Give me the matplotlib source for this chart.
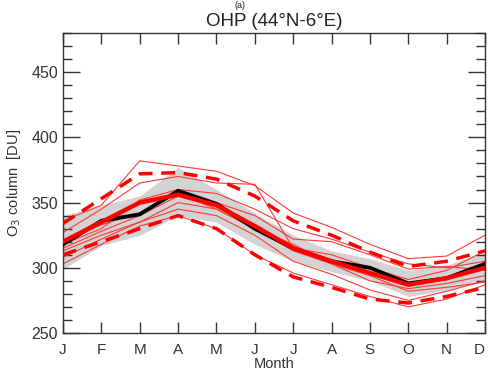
import numpy as np
import matplotlib.pyplot as plt
import matplotlib.transforms as mtransforms

plt.rcParams['font.family'] = ['Liberation Sans', 'DejaVu Sans']

months = ['J', 'F', 'M', 'A', 'M', 'J', 'J', 'A', 'S', 'O', 'N', 'D']

# observed climatology (black) and its spread (grey band)
obs = [318, 336, 341, 359, 349, 330, 315, 305, 300, 288, 292, 303]
band_lo = [299, 317, 325, 340, 335, 318, 305, 297, 290, 278, 283, 290]
band_hi = [340, 348, 355, 377, 360, 342, 325, 313, 307, 298, 302, 312]

# multi-model mean (thick red)
model_mean = [320, 335, 350, 356, 348, 332, 315, 305, 296, 287, 292, 300]

# dashed red envelope lines
dash_hi = [334, 353, 372, 373, 368, 355, 336, 325, 312, 301, 305, 313]
dash_lo = [310, 320, 330, 340, 330, 310, 293, 285, 276, 273, 278, 285]

# individual models (thin red)
models = [
    [336, 348, 382, 378, 374, 363, 342, 331, 318, 307, 309, 325],
    [327, 345, 365, 370, 365, 364, 315, 310, 300, 291, 298, 313],
    [318, 330, 352, 360, 357, 345, 330, 322, 312, 303, 300, 305],
    [315, 328, 340, 355, 350, 340, 322, 320, 310, 299, 301, 298],
    [313, 325, 335, 350, 345, 330, 313, 303, 290, 284, 288, 294],
    [308, 322, 335, 345, 340, 325, 305, 295, 283, 275, 282, 290],
    [303, 318, 332, 340, 330, 310, 296, 287, 278, 270, 276, 287],
    [320, 333, 342, 357, 345, 330, 318, 303, 294, 282, 285, 289],
]

x = np.arange(len(months))

fig = plt.figure(figsize=(4.89, 3.73), dpi=100)
ax = fig.add_axes([63 / 489, 40 / 373, 422 / 489, 300 / 373])

ax.fill_between(x, band_lo, band_hi, color='#d3d3d3', lw=0, zorder=1)
for m in models:
    ax.plot(x, m, color='#ff3838', lw=0.8, zorder=2)
ax.plot(x, dash_hi, color='red', lw=2.5, ls=(0, (4, 2.5)), zorder=3)
ax.plot(x, dash_lo, color='red', lw=2.5, ls=(0, (4, 2.5)), zorder=3)
ax.plot(x, obs, color='black', lw=2.8, zorder=4)
ax.plot(x, model_mean, color='red', lw=3.2, zorder=5)

ax.set_xlim(0, 11)
ax.set_ylim(250, 480)
ax.set_xticks(x)
ax.set_xticklabels(months)
ax.set_yticks([250, 300, 350, 400, 450])
ax.set_yticks(np.arange(250, 481, 10), minor=True)
ax.tick_params(axis='y', which='major', direction='in', length=12, width=1,
               right=True, labelsize=11.5, colors='#333333', labelcolor='#333333')
ax.tick_params(axis='y', which='minor', direction='in', length=6.5, width=1,
               right=True, colors='#333333')
ax.tick_params(axis='x', which='major', direction='in', length=8, width=1,
               top=True, labelsize=11, pad=7, colors='#333333', labelcolor='#333333')
ax.tick_params(axis='x', which='minor', bottom=False, top=False)
for s in ax.spines.values():
    s.set_color('#333333')
    s.set_linewidth(1)

# keep the last month label inside the canvas
last = ax.get_xticklabels()[-1]
last.set_transform(last.get_transform() +
                   mtransforms.ScaledTranslation(-4 / 72, 0, fig.dpi_scale_trans))

ax.set_xlabel('Month', fontsize=10.5, labelpad=0, color='#333333')
ax.set_ylabel('O$_3$ column  [DU]', fontsize=10.5, labelpad=6, color='#333333')
ax.set_title('OHP (44°N-6°E)', fontsize=13.5, pad=5, color='#222222')
fig.text(0.49, 0.998, '(a)', fontsize=6.5, ha='center', va='top', color='#222222')

fig.savefig('out.png', dpi=100)
